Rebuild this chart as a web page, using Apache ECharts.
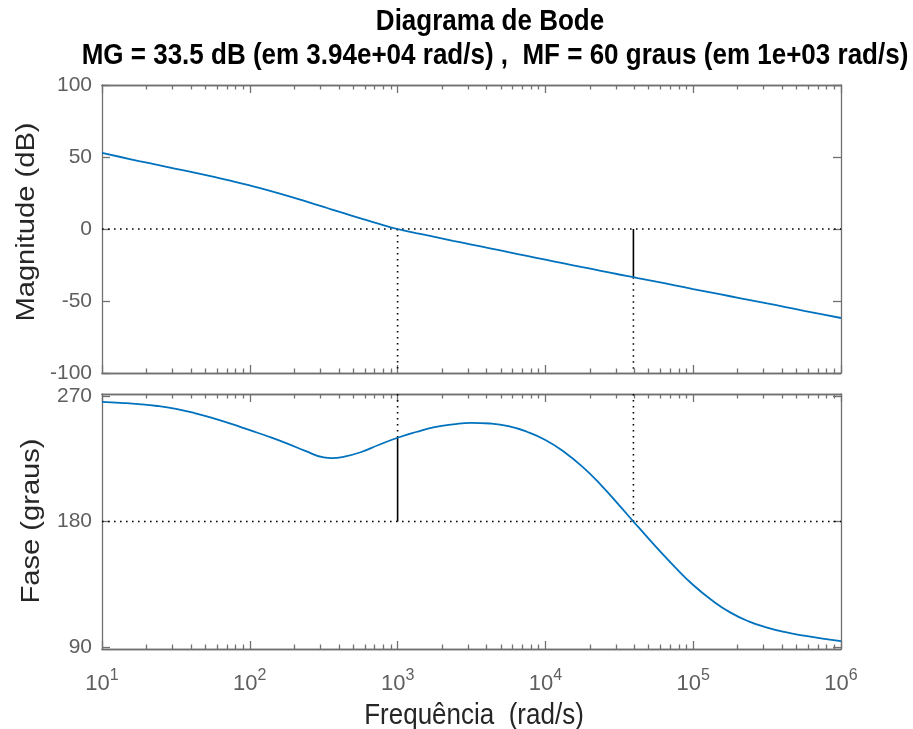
<!DOCTYPE html>
<html><head><meta charset="utf-8">
<script src="https://cdn.jsdelivr.net/npm/echarts@6/dist/echarts.min.js"></script>
<style>html,body{margin:0;padding:0;background:#fff}#c{width:913px;height:729px}</style>
</head><body><div id="c"></div><script>
// ---- data (~1/8-decade samples plus the phase minimum) ----
const freq = [
  10, 13.34, 17.78, 23.71, 31.62, 42.17, 56.23, 74.99,
  100, 133.4, 177.8, 237.1, 316.2, 360, 421.7, 562.3, 749.9,
  1000, 1334, 1778, 2371, 3162, 4217, 5623, 7499,
  10000, 13340, 17780, 23710, 31620, 39400, 42170, 56230, 74990,
  100000, 133400, 177800, 237100, 316200, 421700, 562300, 749900, 1000000
];
const magDb = [
  52.8, 50.0, 47.2, 44.5, 41.8, 39.1, 36.3, 33.4,
  30.3, 26.9, 23.2, 19.3, 15.3, 13.5, 11.3, 7.4, 3.6,
  0, -2.8, -5.5, -8.2, -10.8, -13.4, -16.1, -18.7,
  -21.3, -23.9, -26.5, -29.0, -31.6, -33.5, -34.1, -36.6, -39.1,
  -41.7, -44.2, -46.7, -49.2, -51.7, -54.2, -56.8, -59.3, -61.8
];
const phaseDeg = [
  265.7, 265.0, 264.1, 262.7, 260.6, 257.7, 254.0, 249.9,
  245.4, 240.9, 236.0, 230.6, 225.9, 225.4, 226.1, 229.6, 235.0,
  240.0, 244.1, 247.6, 249.6, 250.7, 250.2, 248.3, 244.3,
  238.4, 230.0, 219.3, 206.3, 191.6, 180.0, 176.5, 161.7, 147.6,
  134.6, 123.8, 115.0, 108.6, 104.1, 100.8, 98.3, 96.2, 94.4
];
const magTicks = [-100, -50, 0, 50, 100];
const phaseTicks = [90, 180, 270];
const decadeTicks = [10, 100, 1000, 10000, 100000, 1000000];
const minorTicks = [];
[10, 100, 1000, 10000, 100000].forEach(d => { for (let k = 2; k <= 9; k++) minorTicks.push(d * k); });
const gmFreq = 39400, gmMag = -33.5;   // gain margin point
const pmFreq = 1000, pmPhase = 240;    // phase margin point
const magRange = [-100, 100];
const phaseRange = [88.8, 271.3];
const xRange = [10, 1000000];
const titleLine1 = 'Diagrama de Bode';
const titleLine2 = 'MG = 33.5 dB (em 3.94e+04 rad/s) ,  MF = 60 graus (em 1e+03 rad/s)';
const xName = 'Frequência  (rad/s)';
const yNameTop = 'Magnitude (dB)';
const yNameBot = 'Fase (graus)';

// ---- chart ----
const AX = '#707070', LB = '#5f5f5f', FONT = 'Liberation Sans, Arial, Helvetica, sans-serif';
const chart = echarts.init(document.getElementById('c'), null, {renderer: 'canvas'});

function xAx(grid, pos, major, labels) {
  return {
    type: 'log', logBase: 10, gridIndex: grid, position: pos, min: xRange[0], max: xRange[1],
    axisLine: {show: true, onZero: false, lineStyle: {color: AX, width: 1.3}},
    axisTick: {show: true, inside: true, length: major ? 8 : 4.5, customValues: major ? decadeTicks : minorTicks, lineStyle: {color: AX, width: 1.3}},
    axisLabel: labels ? {
      show: true, customValues: decadeTicks, margin: 19, color: LB, fontFamily: FONT, fontSize: 21, lineHeight: 32,
      formatter: v => '{b|10}{s|' + Math.round(Math.log10(v)) + '}',
      rich: {
        b: {fontSize: 22, fontFamily: FONT, color: LB, lineHeight: 32, verticalAlign: 'middle'},
        s: {fontSize: 16, fontFamily: FONT, color: LB, lineHeight: 8, verticalAlign: 'top'}
      }
    } : {show: false},
    splitLine: {show: false}, minorTick: {show: false}
  };
}
function yAx(grid, pos, range, ticks, labels) {
  return {
    type: 'value', gridIndex: grid, position: pos, min: range[0], max: range[1],
    axisLine: {show: true, onZero: false, lineStyle: {color: AX, width: 1.3}},
    axisTick: {show: true, inside: true, length: 8, customValues: ticks, lineStyle: {color: AX, width: 1.3}},
    axisLabel: labels ? {show: true, customValues: ticks, margin: 10, color: LB, fontFamily: FONT, fontSize: 21} : {show: false},
    splitLine: {show: false}
  };
}
const pair = (xs, ys) => xs.map((x, i) => [x, ys[i]]);
const dotted = {color: '#000', width: 1.6, type: [1.6, 4.4]};
const solid = {color: '#000', width: 1.6, type: 'solid'};
function guide(xi, yi, data, style) {
  return {type: 'line', xAxisIndex: xi, yAxisIndex: yi, data: data, symbol: 'none', silent: true, lineStyle: style, z: 2, animation: false};
}

const option = {
  animation: false,
  backgroundColor: '#fff',
  grid: [
    {left: 102, top: 85, width: 739, height: 288},
    {left: 102, top: 394, width: 739, height: 255}
  ],
  xAxis: [
    xAx(0, 'bottom', true, false), xAx(0, 'bottom', false, false),
    xAx(0, 'top', true, false), xAx(0, 'top', false, false),
    xAx(1, 'bottom', true, true), xAx(1, 'bottom', false, false),
    xAx(1, 'top', true, false), xAx(1, 'top', false, false)
  ],
  yAxis: [
    yAx(0, 'left', magRange, magTicks, true), yAx(0, 'right', magRange, magTicks, false),
    yAx(1, 'left', phaseRange, phaseTicks, true), yAx(1, 'right', phaseRange, phaseTicks, false)
  ],
  series: [
    guide(0, 0, [[xRange[0], 0], [xRange[1], 0]], dotted),
    guide(0, 0, [[pmFreq, 0], [pmFreq, magRange[0]]], dotted),
    guide(0, 0, [[gmFreq, gmMag], [gmFreq, magRange[0]]], dotted),
    guide(0, 0, [[gmFreq, 0], [gmFreq, gmMag]], solid),
    guide(4, 2, [[xRange[0], 180], [xRange[1], 180]], dotted),
    guide(4, 2, [[pmFreq, phaseRange[1]], [pmFreq, pmPhase]], dotted),
    guide(4, 2, [[gmFreq, phaseRange[1]], [gmFreq, 180]], dotted),
    guide(4, 2, [[pmFreq, 180], [pmFreq, pmPhase]], solid),
    {type: 'line', name: 'mag', xAxisIndex: 0, yAxisIndex: 0, data: pair(freq, magDb), smooth: 0.5, symbol: 'none', lineStyle: {color: '#0072BD', width: 1.8}, z: 3},
    {type: 'line', name: 'phase', xAxisIndex: 4, yAxisIndex: 2, data: pair(freq, phaseDeg), smooth: 0.5, symbol: 'none', lineStyle: {color: '#0072BD', width: 1.8}, z: 3}
  ],
  graphic: [
    {type: 'text', x: 490, y: 22, scaleY: 1.12, style: {text: titleLine1, font: 'bold 26px ' + FONT, fill: '#000', textAlign: 'center', textVerticalAlign: 'middle'}},
    {type: 'text', x: 495, y: 56, scaleY: 1.12, style: {text: titleLine2, font: 'bold 26px ' + FONT, fill: '#000', textAlign: 'center', textVerticalAlign: 'middle'}},
    {type: 'text', x: 474, y: 716, scaleY: 1.12, style: {text: xName, font: '26px ' + FONT, fill: '#262626', textAlign: 'center', textVerticalAlign: 'middle'}},
    {type: 'text', x: 27, y: 222, rotation: Math.PI / 2, scaleX: 1.12, style: {text: yNameTop, font: '26px ' + FONT, fill: '#262626', textAlign: 'center', textVerticalAlign: 'middle'}},
    {type: 'text', x: 32, y: 521, rotation: Math.PI / 2, scaleX: 1.12, style: {text: yNameBot, font: '26px ' + FONT, fill: '#262626', textAlign: 'center', textVerticalAlign: 'middle'}}
  ]
};
chart.setOption(option);
</script></body></html>
